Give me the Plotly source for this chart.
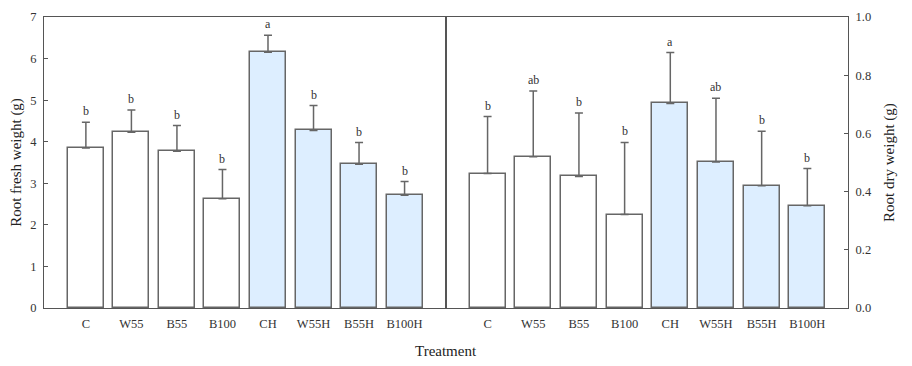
import plotly.graph_objects as go

categories = ["C", "W55", "B55", "B100", "CH", "W55H", "B55H", "B100H"]
fresh_mean = [3.85, 4.23, 3.77, 2.63, 6.15, 4.27, 3.46, 2.71]
fresh_se = [0.62, 0.53, 0.62, 0.70, 0.41, 0.60, 0.52, 0.33]
fresh_letters = ["b", "b", "b", "b", "a", "b", "b", "b"]
dry_mean = [0.462, 0.520, 0.452, 0.321, 0.703, 0.502, 0.420, 0.351]
dry_se = [0.196, 0.226, 0.218, 0.248, 0.175, 0.219, 0.187, 0.128]
dry_letters = ["b", "ab", "b", "b", "a", "ab", "b", "b"]
bar_colors = ["#ffffff"] * 4 + ["#ddeeff"] * 4

FONT = "Liberation Serif, Times New Roman, serif"
LINE = "#555555"
TXT = "#333333"
idx = list(range(len(categories)))

fig = go.Figure()
fig.add_trace(go.Bar(
    x=idx, y=fresh_mean, width=0.79, xaxis="x", yaxis="y",
    marker=dict(color=bar_colors, line=dict(color="#666666", width=1.5)),
    error_y=dict(type="data", symmetric=False, array=fresh_se,
                 arrayminus=[0] * len(fresh_se), color="#666666",
                 thickness=1.5, width=4),
    showlegend=False,
))
fig.add_trace(go.Bar(
    x=idx, y=dry_mean, width=0.79, xaxis="x2", yaxis="y2",
    marker=dict(color=bar_colors, line=dict(color="#666666", width=1.5)),
    error_y=dict(type="data", symmetric=False, array=dry_se,
                 arrayminus=[0] * len(dry_se), color="#666666",
                 thickness=1.5, width=4),
    showlegend=False,
))

annotations = []
for i, c in enumerate(categories):
    annotations.append(dict(x=i, y=fresh_mean[i] + fresh_se[i], xref="x", yref="y",
                            text=fresh_letters[i], showarrow=False, yanchor="bottom",
                            yshift=2, font=dict(family=FONT, size=12, color=TXT)))
    annotations.append(dict(x=i, y=dry_mean[i] + dry_se[i], xref="x2", yref="y2",
                            text=dry_letters[i], showarrow=False, yanchor="bottom",
                            yshift=2, font=dict(family=FONT, size=12, color=TXT)))
annotations.append(dict(x=0.5, y=-0.115, xref="paper", yref="paper", text="Treatment",
                        showarrow=False, yanchor="top",
                        font=dict(family=FONT, size=15, color="#222222")))

xcommon = dict(
    tickmode="array", tickvals=idx, ticktext=categories, ticks="",
    showline=True, linecolor=LINE, linewidth=1.2, mirror=True,
    showgrid=False, zeroline=False, ticklabelstandoff=4, automargin=False,
    tickfont=dict(family=FONT, size=12.5, color=TXT),
)

fig.update_layout(
    width=912, height=366,
    margin=dict(l=36, r=72, t=9, b=66),
    paper_bgcolor="white", plot_bgcolor="white",
    bargap=0,
    xaxis=dict(domain=[0, 0.5], range=[-0.92, 7.91], anchor="y", **xcommon),
    xaxis2=dict(domain=[0.5, 1], range=[-0.91, 7.89], anchor="y2", **xcommon),
    yaxis=dict(range=[0, 7], dtick=1, anchor="x", side="left", automargin=False,
               showline=True, linecolor=LINE, linewidth=1.2, mirror=True,
               ticks="inside", ticklen=4, tickcolor=LINE, showgrid=False, zeroline=False,
               ticklabelstandoff=4,
               tickfont=dict(family=FONT, size=12.5, color=TXT),
               title=dict(text="Root fresh weight (g)", standoff=6,
                          font=dict(family=FONT, size=15, color="#222222"))),
    yaxis2=dict(range=[0, 1.0], dtick=0.2, tickformat=".1f", anchor="x2", side="right",
                automargin=False,
                showline=True, linecolor=LINE, linewidth=1.2, mirror=True,
                ticks="inside", ticklen=4, tickcolor=LINE, showgrid=False, zeroline=False,
                ticklabelstandoff=4,
                tickfont=dict(family=FONT, size=12.5, color=TXT),
                title=dict(text="Root dry weight (g)", standoff=12,
                           font=dict(family=FONT, size=15, color="#222222"))),
    annotations=annotations,
)

fig.write_html("out.html")
